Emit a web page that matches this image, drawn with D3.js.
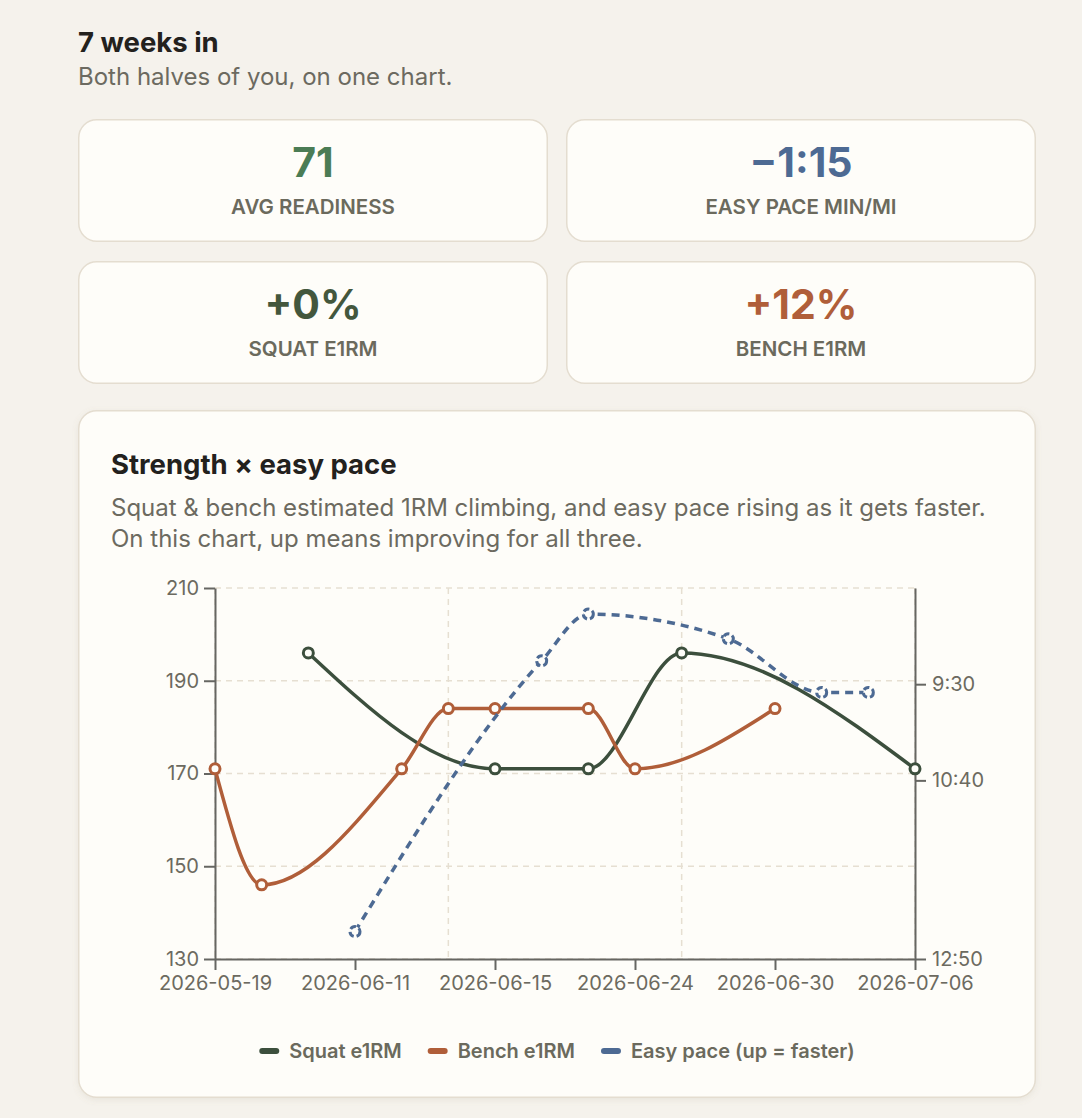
<!DOCTYPE html>
<html>
<head>
<meta charset="utf-8">
<script src="https://cdn.jsdelivr.net/npm/d3@7"></script>
<style>
  html, body { margin: 0; padding: 0; background: #f5f2ec; }
  svg { display: block; font-family: Inter, "Noto Sans", sans-serif; }
</style>
</head>
<body>
<svg id="page"></svg>
<script>
// Data
const dates = ["2026-05-19","2026-05-26","2026-06-04","2026-06-11","2026-06-12","2026-06-13","2026-06-15","2026-06-17",
               "2026-06-20","2026-06-24","2026-06-25","2026-06-27","2026-06-30","2026-07-02","2026-07-04","2026-07-06"]
const squat = [null,null,196,null,null,null,171,null,171,null,196,null,null,null,null,171]
const bench = [171,146,null,null,171,184,184,null,184,171,null,null,184,null,null,null]
const pace  = [null,null,null,750,null,null,null,553,519,null,null,537,null,576,576,null] // sec per mile
const xTickDates = ["2026-05-19","2026-06-11","2026-06-15","2026-06-24","2026-06-30","2026-07-06"]
const xGridDates = ["2026-05-19","2026-06-13","2026-06-25","2026-07-06"]
const strengthTicks = [130,150,170,190,210]
const paceTicks = [570,640,770]

const kpiValues = ["71","\u22121:15","+0%","+12%"]
const kpiLabels = ["AVG READINESS","EASY PACE MIN/MI","SQUAT E1RM","BENCH E1RM"]
const kpiColors = ["#4b7c55","#4d6a93","#43573d","#b05e39"]

const seriesNames = ["Squat e1RM","Bench e1RM","Easy pace (up = faster)"]
const seriesColors = ["#3c4f3d","#b05e39","#4d6a93"]

// Page
var W = 1082, H = 1118
var svg = d3.select('#page').attr("width", W).attr("height", H)

var defs = svg.append("defs")
var f = defs.append("filter").attr("id", "shadow").attr("x", "-5%").attr("y", "-5%").attr("width", "110%").attr("height", "110%")
f.append("feDropShadow").attr("dx", 0).attr("dy", 2).attr("stdDeviation", 3)
    .attr("flood-color", "#8a7f6a").attr("flood-opacity", 0.12)

svg.append("text").attr("x", 78).attr("y", 52)
    .attr("font-size", 27.5).attr("font-weight", 700).attr("fill", "#23211d")
    .text("7 weeks in")
svg.append("text").attr("x", 78).attr("y", 85)
    .attr("font-size", 24).attr("fill", "#6c6a60")
    .text("Both halves of you, on one chart.")

// KPI cards
var cardW = 470, cardH = 123
var cards = svg.selectAll("g.kpi")
    .data(kpiValues)
    .enter()
    .append("g")
    .attr("class", "kpi")
    .attr("transform", (d, i) => {
        var translate = [78 + (i % 2) * 488, 119 + Math.floor(i / 2) * 142]
        return "translate(" + translate + ")"
    })
cards.append("rect")
    .attr("x", 0.75).attr("y", 0.75)
    .attr("width", cardW - 1.5).attr("height", cardH - 1.5)
    .attr("rx", 18)
    .attr("fill", "#fefdf9").attr("stroke", "#e4ddd0").attr("stroke-width", 1.5)
cards.append("text")
    .attr("x", cardW / 2).attr("y", 58)
    .attr("text-anchor", "middle")
    .attr("font-size", 41).attr("font-weight", 700)
    .attr("fill", (d, i) => kpiColors[i])
    .text(d => d)
cards.append("text")
    .attr("x", cardW / 2).attr("y", 95)
    .attr("text-anchor", "middle")
    .attr("font-size", 20.5).attr("font-weight", 600)
    .attr("fill", "#6b6a5d")
    .text((d, i) => kpiLabels[i])

// Chart card
svg.append("rect")
    .attr("x", 78.75).attr("y", 410.75).attr("width", 956.5).attr("height", 686.5).attr("rx", 18)
    .attr("fill", "#fefdf9").attr("stroke", "#e4ddd0").attr("stroke-width", 1.5)
    .attr("filter", "url(#shadow)")
svg.append("text").attr("x", 111).attr("y", 474)
    .attr("font-size", 27.5).attr("font-weight", 700).attr("fill", "#23211d")
    .text("Strength \u00d7 easy pace")
svg.append("text").attr("x", 111).attr("y", 516)
    .attr("font-size", 24).attr("fill", "#6c6a60")
    .text("Squat & bench estimated 1RM climbing, and easy pace rising as it gets faster.")
svg.append("text").attr("x", 111).attr("y", 547)
    .attr("font-size", 24).attr("fill", "#6c6a60")
    .text("On this chart, up means improving for all three.")

// Scales
var x0 = 215, x1 = 915, yTop = 588, yBot = 959
var x = d3.scalePoint().domain(dates).range([x0, x1])
var y = d3.scaleLinear().domain([130, 210]).range([yBot, yTop])
var yPace = d3.scaleLinear().domain([770, 500]).range([yBot, yTop])

function fmtPace(s) {
    var m = Math.floor(s / 60), r = Math.round(s % 60)
    return m + ":" + (r < 10 ? "0" : "") + r
}

// Grid
var grid = svg.append("g")
grid.selectAll("line.h")
    .data(strengthTicks)
    .enter()
    .append("line")
    .attr("x1", x0).attr("x2", x1)
    .attr("y1", d => y(d)).attr("y2", d => y(d))
grid.selectAll("line.v")
    .data(xGridDates)
    .enter()
    .append("line")
    .attr("x1", d => x(d)).attr("x2", d => x(d))
    .attr("y1", yTop).attr("y2", yBot)
grid.selectAll("line")
    .attr("stroke", "#e6dfd2").attr("stroke-width", 1.5).attr("stroke-dasharray", "6,5")

// Axes
function styleAxis(g) {
    g.selectAll(".domain, .tick line").attr("stroke", "#666662").attr("stroke-width", 2)
    g.selectAll(".tick text").attr("fill", "#6c6a60").attr("font-size", 20)
        .attr("font-family", "Inter, 'Noto Sans', sans-serif")
}
svg.append("g").attr("transform", "translate(0," + yBot + ")")
    .call(d3.axisBottom(x).tickValues(xTickDates).tickSize(11).tickSizeOuter(0).tickPadding(6))
    .call(styleAxis)
svg.append("g").attr("transform", "translate(" + x0 + ",0)")
    .call(d3.axisLeft(y).tickValues(strengthTicks).tickSize(11).tickSizeOuter(0).tickPadding(5))
    .call(styleAxis)
svg.append("g").attr("transform", "translate(" + x1 + ",0)")
    .call(d3.axisRight(yPace).tickValues(paceTicks).tickFormat(fmtPace).tickSize(11).tickSizeOuter(0).tickPadding(6))
    .call(styleAxis)

// Lines
function pts(arr) {
    return dates.map((d, i) => ({ date: d, v: arr[i] })).filter(p => p.v !== null)
}
var series = [
    { pts: pts(squat), scale: y, color: seriesColors[0], dash: null },
    { pts: pts(bench), scale: y, color: seriesColors[1], dash: null },
    { pts: pts(pace), scale: yPace, color: seriesColors[2], dash: "8,6" }
]
series.forEach(s => {
    var line = d3.line()
        .x(p => x(p.date))
        .y(p => s.scale(p.v))
        .curve(d3.curveMonotoneX)
    var g = svg.append("g")
    g.append("path")
        .attr("d", line(s.pts))
        .attr("fill", "none")
        .attr("stroke", s.color)
        .attr("stroke-width", 3.5)
        .attr("stroke-dasharray", s.dash)
    g.selectAll("circle")
        .data(s.pts)
        .enter()
        .append("circle")
        .attr("cx", p => x(p.date))
        .attr("cy", p => s.scale(p.v))
        .attr("r", 5)
        .attr("fill", "#fefdf9")
        .attr("stroke", s.color)
        .attr("stroke-width", 3)
        .attr("stroke-dasharray", s.dash ? "6,3" : null)
})

// Legend
var legend = svg.append("g").attr("transform", "translate(0,1051)")
var items = legend.selectAll("g")
    .data(seriesNames)
    .enter()
    .append("g")
items.append("line")
    .attr("x1", 3).attr("x2", 17)
    .attr("y1", 0).attr("y2", 0)
    .attr("stroke", (d, i) => seriesColors[i]).attr("stroke-width", 6).attr("stroke-linecap", "round")
items.append("text")
    .attr("x", 30).attr("y", 7)
    .attr("font-size", 20).attr("font-weight", 600).attr("fill", "#6b6a5d")
    .text(d => d)
var widths = items.nodes().map(n => 30 + n.querySelector("text").getComputedTextLength())
var total = d3.sum(widths) + 26 * (widths.length - 1)
var lx = 557 - total / 2
items.attr("transform", (d, i) => {
    var translate = [lx, 0]
    lx += widths[i] + 26
    return "translate(" + translate + ")"
})
</script>
</body>
</html>
